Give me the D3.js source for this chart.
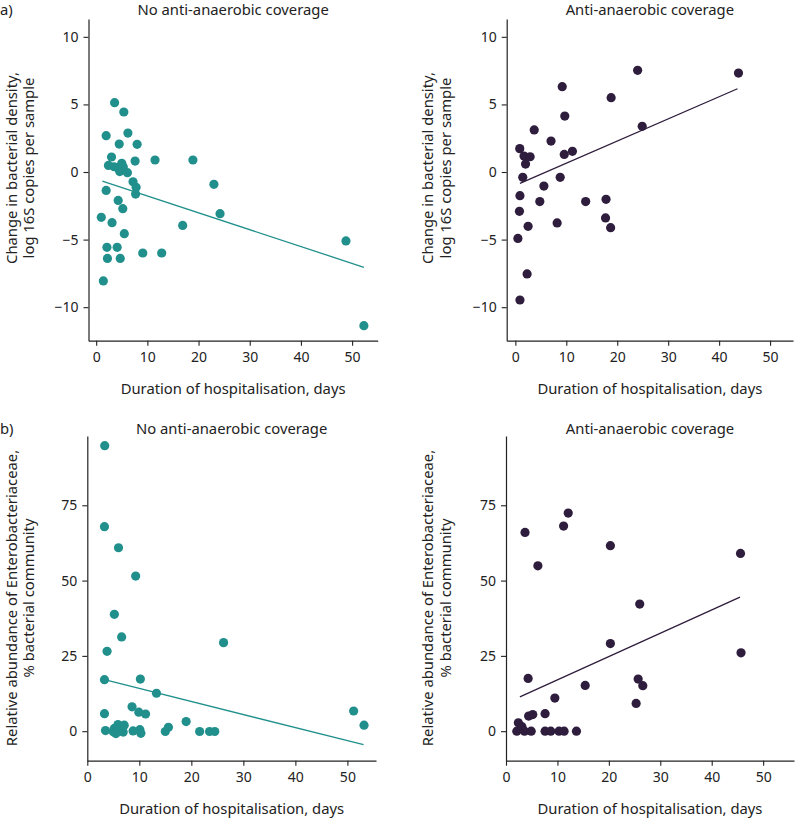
<!DOCTYPE html>
<html><head><meta charset="utf-8">
<script src="https://cdn.jsdelivr.net/npm/d3@7"></script>
<style>body{margin:0;background:#fff}svg text{font-family:"Noto Sans",sans-serif;fill:#222}</style>
</head><body><svg id="c" width="796" height="822"></svg>
<script>
const panelTitles = ["No anti-anaerobic coverage", "Anti-anaerobic coverage"];
const xTitle = "Duration of hospitalisation, days";
const yTitleA = ["Change in bacterial density,", "log 16S copies per sample"];
const yTitleB = ["Relative abundance of Enterobacteriaceae,", "% bacterial community"];
const xTicks = [0, 10, 20, 30, 40, 50];
const yTicksA = [-10, -5, 0, 5, 10];
const yTicksB = [0, 25, 50, 75];
const colorNo = "#21908c";
const colorAnti = "#2e1d3c";

// panel a, no anti-anaerobic coverage: [days, change]
const aNo = [[3.6,5.13],[5.4,4.44],[1.95,2.69],[6.2,2.88],[4.5,2.07],[8.0,2.05],[3.0,1.11],[2.4,0.49],[3.5,0.39],[5.0,0.64],[4.2,0.32],[5.3,0.37],[4.6,0.03],[6.1,-0.05],[7.6,0.81],[11.5,0.89],[18.9,0.89],[7.2,-0.72],[7.8,-1.13],[7.7,-1.63],[1.95,-1.36],[4.3,-2.1],[5.2,-2.71],[1.0,-3.35],[3.1,-3.75],[16.9,-3.95],[5.5,-4.56],[2.1,-5.57],[4.1,-5.57],[9.1,-5.99],[12.8,-5.99],[2.2,-6.39],[4.7,-6.39],[1.4,-8.06],[23.0,-0.91],[24.2,-3.08],[48.8,-5.1],[52.3,-11.37]];
const aNoFit = [[1.2,-0.67],[52.3,-7.05]];
// panel a, anti-anaerobic coverage
const aAnti = [[9.2,6.31],[9.7,4.14],[3.7,3.11],[7.0,2.29],[0.86,1.73],[1.7,1.18],[2.9,1.13],[2.0,0.59],[9.6,1.3],[11.2,1.53],[1.45,-0.39],[8.8,-0.39],[5.6,-1.04],[0.9,-1.75],[4.8,-2.19],[0.8,-2.91],[2.5,-4.02],[8.2,-3.77],[0.5,-4.91],[2.3,-7.54],[0.9,-9.47],[24.0,7.52],[43.8,7.32],[18.8,5.5],[24.9,3.38],[13.8,-2.19],[17.8,-2.02],[17.7,-3.4],[18.7,-4.12]];
const aAntiFit = [[0.9,-0.84],[43.6,6.16]];
// panel b, no anti-anaerobic coverage: [days, % Enterobacteriaceae]
const bNo = [[3.35,94.8],[3.3,67.9],[6.0,60.9],[9.3,51.5],[5.2,38.8],[6.6,31.3],[3.8,26.5],[3.3,17.1],[10.2,17.3],[13.3,12.6],[26.2,29.4],[3.3,5.8],[8.6,8.1],[9.9,6.3],[11.2,5.7],[19.0,3.2],[51.2,6.7],[53.2,2.0],[3.5,0.2],[5.0,-0.2],[5.2,0.9],[5.5,-0.8],[5.9,2.2],[6.0,0.7],[6.9,-0.3],[7.1,2.0],[8.8,0.1],[10.1,0.5],[10.3,-0.7],[15.0,-0.1],[15.6,1.3],[21.6,-0.1],[23.5,-0.1],[24.5,-0.1]];
const bNoFit = [[3.3,17.1],[53.1,-4.5]];
// panel b, anti-anaerobic coverage
const bAnti = [[3.7,66.0],[11.2,68.1],[12.1,72.4],[6.2,54.9],[4.3,17.5],[9.5,11.0],[4.4,5.0],[5.2,5.5],[7.6,5.8],[2.4,2.8],[3.1,1.5],[2.1,0],[3.6,0],[4.9,0],[7.6,0],[8.7,0],[10.3,0],[11.3,0],[13.7,0],[20.3,61.6],[45.6,59.0],[26.0,42.2],[20.3,29.1],[45.7,26.0],[25.7,17.3],[26.6,15.1],[25.3,9.2],[15.4,15.2]];
const bAntiFit = [[2.7,11.4],[45.5,44.5]];

const svg = d3.select("#c");

function panel(o) {
  const x = d3.scaleLinear().domain(o.xd).range(o.xr);
  const y = d3.scaleLinear().domain(o.yd).range(o.yr);
  const g = svg.append("g");
  const xa = g.append("g").attr("transform", `translate(0,${o.yr[0]})`)
    .call(d3.axisBottom(x).tickValues(xTicks).tickSize(5).tickPadding(6).tickSizeOuter(0));
  const ya = g.append("g").attr("transform", `translate(${o.xr[0]},0)`)
    .call(d3.axisLeft(y).tickValues(o.yt).tickSize(5).tickPadding(5).tickSizeOuter(0)
      .tickFormat(d => d < 0 ? "\u2212" + Math.abs(d) : d));
  [xa, ya].forEach(a => {
    a.selectAll("path,line").attr("stroke", "#222").attr("stroke-width", 1.1);
    a.selectAll("text").attr("font-size", 14).attr("fill", "#222");
    a.select(".domain").attr("stroke-width", 1.2);
  });
  g.append("path").datum(o.fit)
    .attr("d", d3.line().x(d => x(d[0])).y(d => y(d[1])))
    .attr("fill", "none").attr("stroke", o.color).attr("stroke-width", 1.3);
  g.selectAll("circle.pt").data(o.data).join("circle")
    .attr("cx", d => x(d[0])).attr("cy", d => y(d[1])).attr("r", 4.6)
    .attr("fill", o.color);
  g.append("text").attr("x", (o.xr[0] + o.xr[1]) / 2).attr("y", o.ty)
    .attr("text-anchor", "middle").attr("font-size", 14.8).text(o.title);
  g.append("text").attr("x", (o.xr[0] + o.xr[1]) / 2).attr("y", o.yr[0] + 53)
    .attr("text-anchor", "middle").attr("font-size", 14.8).text(xTitle);
  o.ytitle.forEach((t, i) => {
    g.append("text")
      .attr("transform", `translate(${o.ytx + i * 17.5},${o.yty}) rotate(-90)`)
      .attr("text-anchor", "middle").attr("font-size", 14.8).text(t);
  });
}

const yA = { yd: [-12.48, 11.32], yr: [340.7, 19], yt: yTicksA };
const yB = { yd: [-9.8, 98], yr: [760.7, 436], yt: yTicksB };

panel({ ...yA, xd: [-1.5, 55.0], xr: [88.5, 377.7], data: aNo, fit: aNoFit, color: colorNo,
  title: panelTitles[0], ty: 15, ytitle: yTitleA, ytx: 16.5, yty: 168 });
panel({ ...yA, xd: [-1.7, 54.5], xr: [506.7, 793], data: aAnti, fit: aAntiFit, color: colorAnti,
  title: panelTitles[1], ty: 15, ytitle: yTitleA, ytx: 433, yty: 168 });
panel({ ...yB, xd: [0, 55.5], xr: [87.3, 376], data: bNo, fit: bNoFit, color: colorNo,
  title: panelTitles[0], ty: 434, ytitle: yTitleB, ytx: 16.5, yty: 598 });
panel({ ...yB, xd: [0, 56], xr: [506, 794], data: bAnti, fit: bAntiFit, color: colorAnti,
  title: panelTitles[1], ty: 434, ytitle: yTitleB, ytx: 433, yty: 598 });

svg.append("text").attr("x", 0).attr("y", 15).attr("font-size", 14.8).text("a)");
svg.append("text").attr("x", 0).attr("y", 434).attr("font-size", 14.8).text("b)");
</script></body></html>
